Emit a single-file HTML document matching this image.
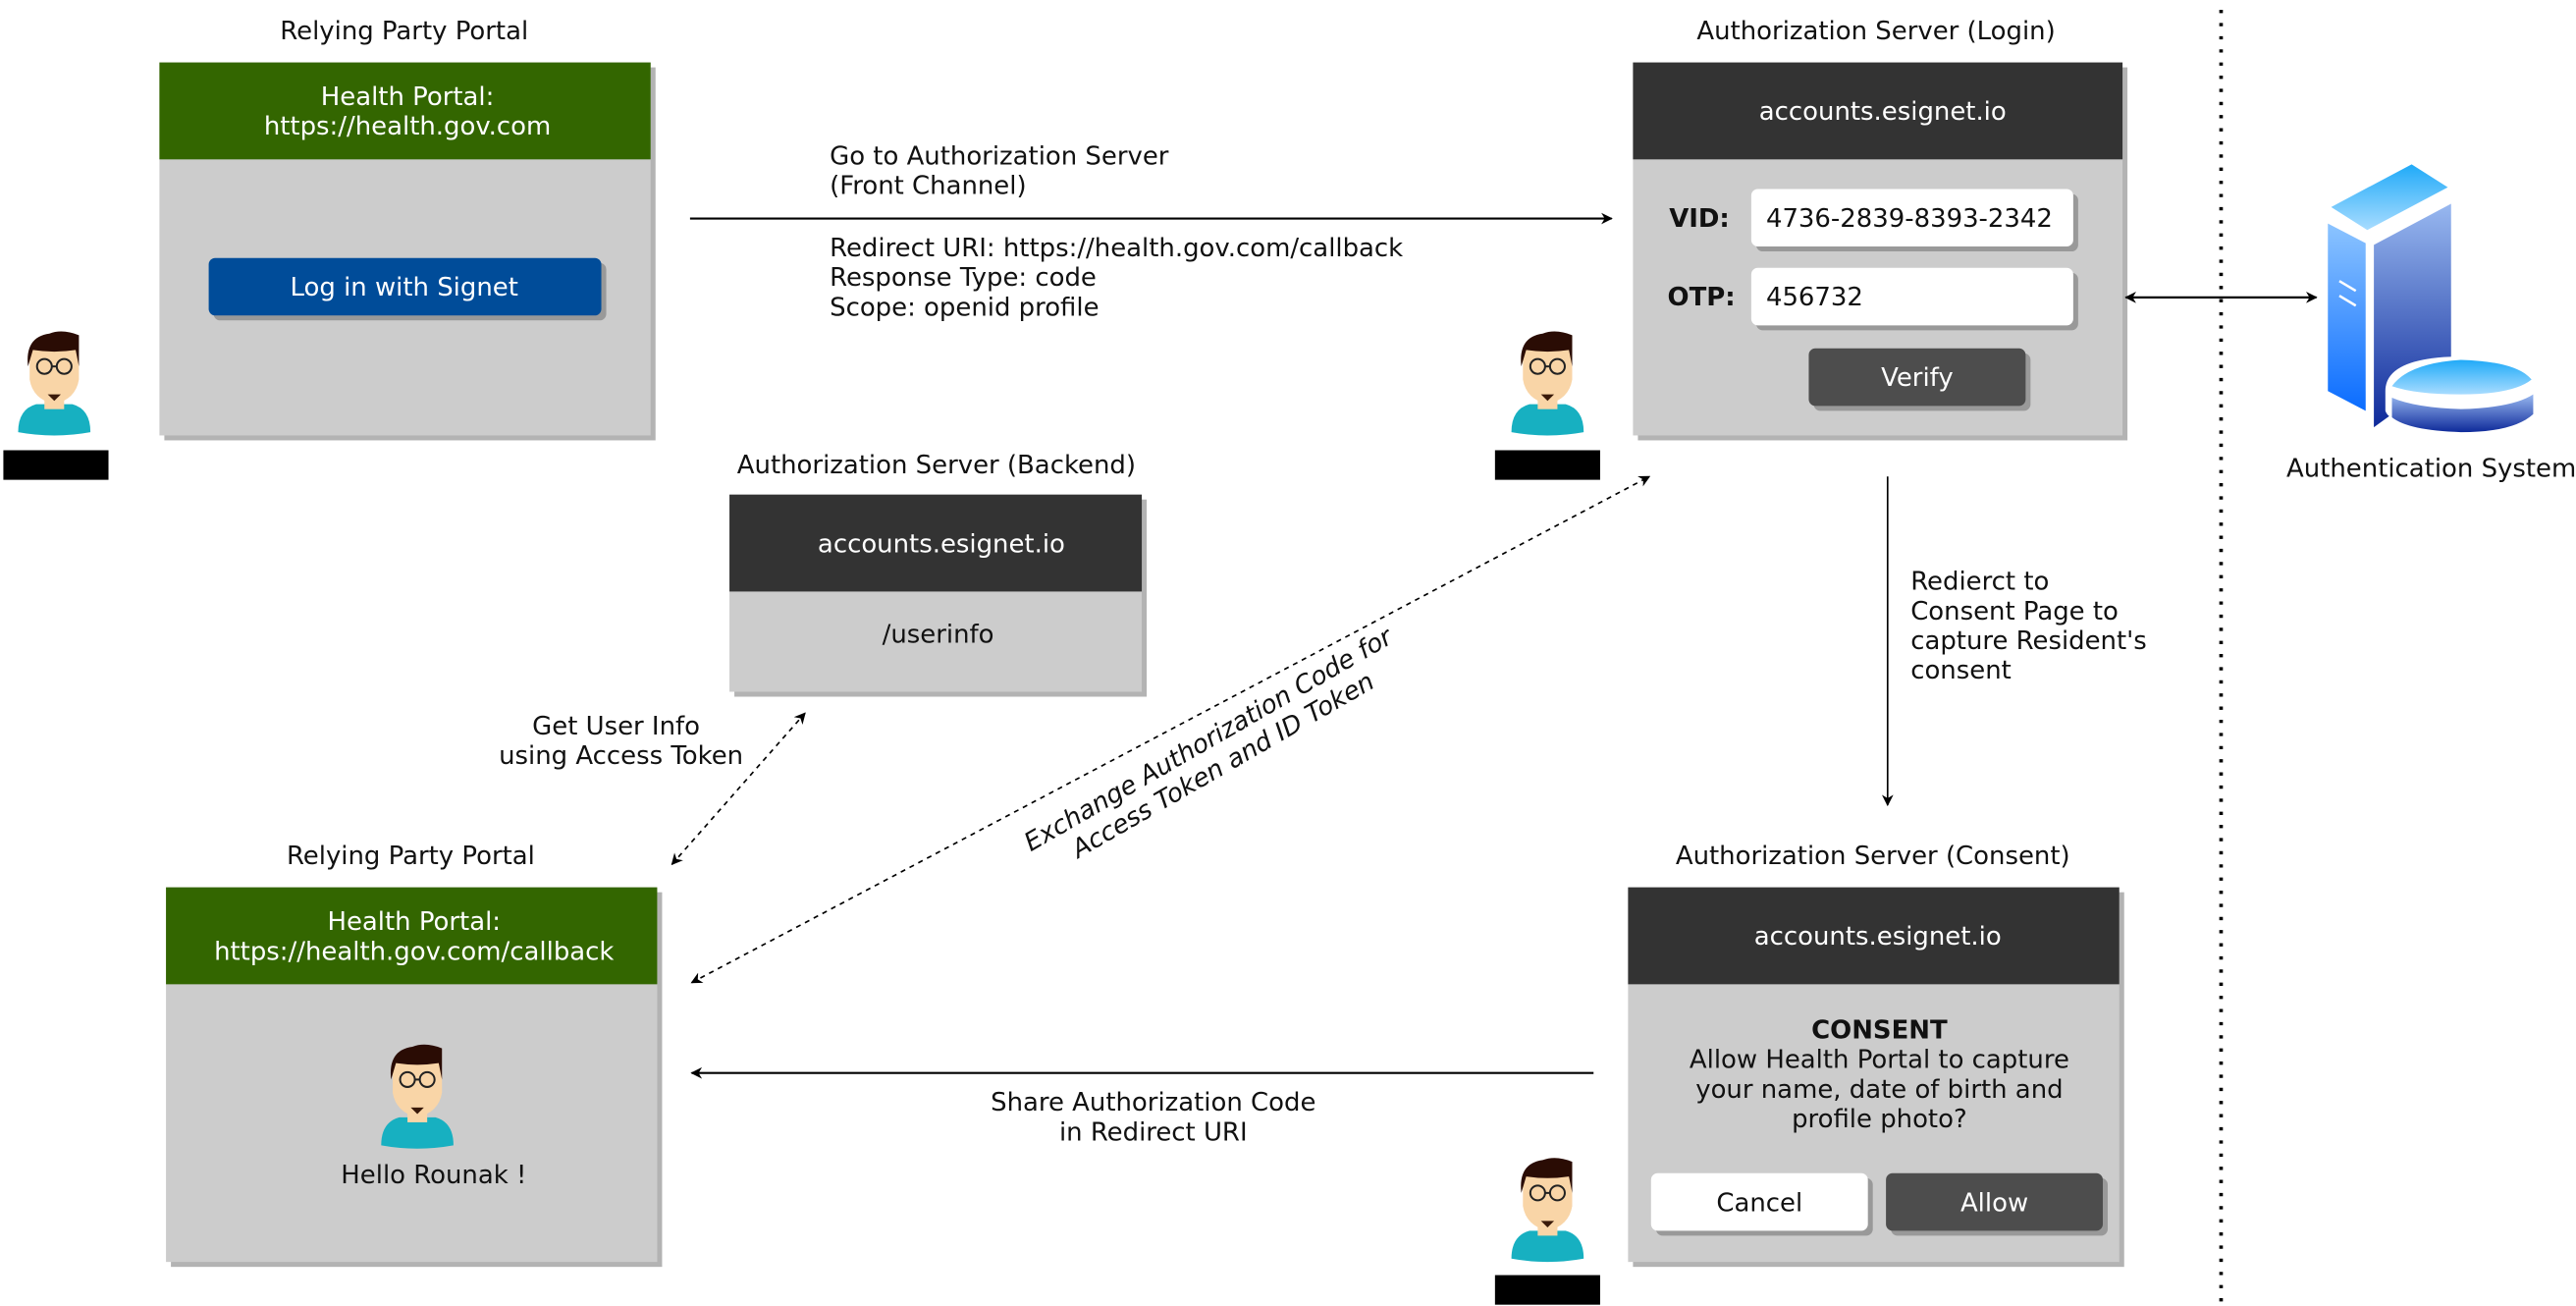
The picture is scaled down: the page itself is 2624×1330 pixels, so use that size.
<!DOCTYPE html>
<html><head><meta charset="utf-8"><style>
html,body{margin:0;padding:0;background:#fff;}
svg{display:block;}
text{font-family:"DejaVu Sans","Liberation Sans",sans-serif;font-size:15.5px;fill:#111;}
.w{fill:#fff;}
.c{text-anchor:middle;}
.b{font-weight:bold;}
</style></head><body>
<svg width="2624" height="1330" viewBox="0 0 1568 794.8" xmlns="http://www.w3.org/2000/svg">
<defs>
<marker id="ah" viewBox="0 0 10 10" refX="9" refY="5" markerWidth="7" markerHeight="7" orient="auto-start-reverse" markerUnits="userSpaceOnUse"><path d="M0,0 L10,5 L0,10 L3,5 Z" fill="#000"/></marker>
<linearGradient id="g1" x1="0" y1="0" x2="0" y2="1"><stop offset="0" stop-color="#8cc4ff"/><stop offset="1" stop-color="#0a6cff"/></linearGradient>
<linearGradient id="g2" x1="0" y1="0" x2="0" y2="1"><stop offset="0" stop-color="#98b8f0"/><stop offset="1" stop-color="#0e2a9a"/></linearGradient>
<linearGradient id="g3" x1="0" y1="0" x2="0" y2="1"><stop offset="0" stop-color="#20aaf8"/><stop offset="1" stop-color="#a8dcff"/></linearGradient>
<g id="person">
<path d="M3,62 Q3,48 14,45 L36,45 Q47,48 47,62 Q25,66 3,62 Z" fill="#17b0c1"/>
<rect x="19" y="38" width="12" height="10" fill="#f9d5a7"/>
<path d="M10,18 Q10,5 25,5 Q40,5 40,18 L40,30 Q38,42 25,45 Q12,42 10,30 Z" fill="#f9d5a7"/>
<path d="M9,22 Q7,4 22,2 Q30,-1 40,3 L40,22 L38,12 Q25,14 12,12 Z" fill="#2a0c04"/>
<circle cx="19" cy="22" r="4.5" fill="none" stroke="#222" stroke-width="1.2"/>
<circle cx="31" cy="22" r="4.5" fill="none" stroke="#222" stroke-width="1.2"/>
<line x1="23.5" y1="22" x2="26.5" y2="22" stroke="#222" stroke-width="1.2"/>
<path d="M21,39 L29,39 L25,43 Z" fill="#3a1a0a"/>
</g>
</defs>

<text class="c" x="246" y="24">Relying Party Portal</text>
<rect x="100" y="41" width="299" height="227" fill="#b3b3b3"/>
<rect x="97" y="38" width="299" height="227" fill="#cccccc"/>
<rect x="97" y="38" width="299" height="59" fill="#336600"/>
<text class="c w" x="248" y="64">Health Portal:</text>
<text class="c w" x="248" y="82">https://health.gov.com</text>
<rect x="130" y="160" width="239" height="35" rx="4" fill="#999"/>
<rect x="127" y="157" width="239" height="35" rx="4" fill="#004c99"/>
<text class="c w" x="246" y="180">Log in with Signet</text>
<use href="#person" x="8" y="201"/>
<rect x="2" y="274" width="64" height="18" fill="#000"/>

<line x1="420" y1="133" x2="981" y2="133" stroke="#000" stroke-width="1.3" marker-end="url(#ah)"/>
<text x="505" y="100">Go to Authorization Server</text>
<text x="505" y="118">(Front Channel)</text>
<text x="505" y="156">Redirect URI: https://health.gov.com/callback</text>
<text x="505" y="174">Response Type: code</text>
<text x="505" y="192">Scope: openid profile</text>

<text class="c" x="1142" y="24">Authorization Server (Login)</text>
<rect x="997" y="41" width="298" height="227" fill="#b3b3b3"/>
<rect x="994" y="38" width="298" height="227" fill="#cccccc"/>
<rect x="994" y="38" width="298" height="59" fill="#333333"/>
<text class="c w" x="1146" y="73">accounts.esignet.io</text>
<text class="b" x="1016" y="138">VID:</text>
<rect x="1069" y="118" width="196" height="35" rx="4" fill="#999"/>
<rect x="1066" y="115" width="196" height="35" rx="4" fill="#fff"/>
<text x="1075" y="138">4736-2839-8393-2342</text>
<text class="b" x="1015" y="186">OTP:</text>
<rect x="1069" y="166" width="196" height="35" rx="4" fill="#999"/>
<rect x="1066" y="163" width="196" height="35" rx="4" fill="#fff"/>
<text x="1075" y="186">456732</text>
<rect x="1104" y="215" width="132" height="35" rx="4" fill="#999"/>
<rect x="1101" y="212" width="132" height="35" rx="4" fill="#4d4d4d"/>
<text class="c w" x="1167" y="235">Verify</text>
<use href="#person" x="917" y="201"/>
<rect x="910" y="274" width="64" height="18" fill="#000"/>

<line x1="1352" y1="6" x2="1352" y2="795" stroke="#000" stroke-width="2.2" stroke-dasharray="2,6"/>
<line x1="1294" y1="181" x2="1410" y2="181" stroke="#000" stroke-width="1.3" marker-start="url(#ah)" marker-end="url(#ah)"/>

<polygon points="1417,136 1440,148 1440,250 1417,238" fill="url(#g1)"/>
<polygon points="1419,126 1468,100 1490,114 1441,140" fill="url(#g3)"/>
<polygon points="1445,149 1492,124 1492,226 1445,260" fill="url(#g2)"/>
<line x1="1424" y1="171" x2="1434" y2="177" stroke="#fff" stroke-width="1.5"/>
<line x1="1424" y1="180" x2="1434" y2="186" stroke="#fff" stroke-width="1.5"/>
<path d="M1452,238 Q1452,218 1495,217 Q1540,218 1544,228 L1544,250 Q1540,262 1498,262 Q1455,260 1452,250 Z" fill="#fff"/>
<path d="M1456,242 Q1470,248 1498,249 Q1530,248 1542,240 L1542,252 Q1530,263 1498,263 Q1466,262 1456,254 Z" fill="url(#g2)"/>
<path d="M1456,235 Q1466,221 1498,219 Q1532,220 1541,231 Q1530,240 1498,240 Q1470,240 1456,235 Z" fill="url(#g3)"/>
<text class="c" x="1480" y="290">Authentication System</text>

<line x1="1149" y1="290" x2="1149" y2="490" stroke="#000" stroke-width="1" marker-end="url(#ah)"/>
<text x="1163" y="359">Redierct to</text>
<text x="1163" y="377">Consent Page to</text>
<text x="1163" y="395">capture Resident's</text>
<text x="1163" y="413">consent</text>

<text class="c" x="570" y="288">Authorization Server (Backend)</text>
<rect x="447" y="304" width="251" height="120" fill="#b3b3b3"/>
<rect x="444" y="301" width="251" height="120" fill="#cccccc"/>
<rect x="444" y="301" width="251" height="59" fill="#333333"/>
<text class="c w" x="573" y="336">accounts.esignet.io</text>
<text class="c" x="571" y="391">/userinfo</text>

<line x1="409" y1="526" x2="490" y2="434" stroke="#000" stroke-width="1" stroke-dasharray="3,3" marker-start="url(#ah)" marker-end="url(#ah)"/>
<text class="c" x="375" y="447">Get User Info</text>
<text class="c" x="378" y="465">using Access Token</text>
<line x1="421" y1="598" x2="1004" y2="290" stroke="#000" stroke-width="1" stroke-dasharray="3,3" marker-start="url(#ah)" marker-end="url(#ah)"/>
<g transform="translate(740,458) rotate(-30)">
<text class="c" x="0" y="-4" style="font-style:italic">Exchange Authorization Code for</text>
<text class="c" x="0" y="14" style="font-style:italic">Access Token and ID Token</text>
</g>

<text class="c" x="250" y="526">Relying Party Portal</text>
<rect x="104" y="543" width="299" height="228" fill="#b3b3b3"/>
<rect x="101" y="540" width="299" height="228" fill="#cccccc"/>
<rect x="101" y="540" width="299" height="59" fill="#336600"/>
<text class="c w" x="252" y="566">Health Portal:</text>
<text class="c w" x="252" y="584">https://health.gov.com/callback</text>
<use href="#person" x="229" y="635"/>
<text class="c" x="264" y="720">Hello Rounak !</text>

<line x1="970" y1="653" x2="421" y2="653" stroke="#000" stroke-width="1.3" marker-end="url(#ah)"/>
<text class="c" x="702" y="676">Share Authorization Code</text>
<text class="c" x="702" y="694">in Redirect URI</text>

<text class="c" x="1140" y="526">Authorization Server (Consent)</text>
<rect x="994" y="543" width="299" height="228" fill="#b3b3b3"/>
<rect x="991" y="540" width="299" height="228" fill="#cccccc"/>
<rect x="991" y="540" width="299" height="59" fill="#333333"/>
<text class="c w" x="1143" y="575">accounts.esignet.io</text>
<text class="c b" x="1144" y="632">CONSENT</text>
<text class="c" x="1144" y="650">Allow Health Portal to capture</text>
<text class="c" x="1144" y="668">your name, date of birth and</text>
<text class="c" x="1144" y="686">profile photo?</text>
<rect x="1008" y="717" width="132" height="35" rx="4" fill="#999"/>
<rect x="1005" y="714" width="132" height="35" rx="4" fill="#fff"/>
<text class="c" x="1071" y="737">Cancel</text>
<rect x="1151" y="717" width="132" height="35" rx="4" fill="#999"/>
<rect x="1148" y="714" width="132" height="35" rx="4" fill="#4d4d4d"/>
<text class="c w" x="1214" y="737">Allow</text>
<use href="#person" x="917" y="704"/>
<rect x="910" y="776" width="64" height="18" fill="#000"/>
</svg>
</body></html>
